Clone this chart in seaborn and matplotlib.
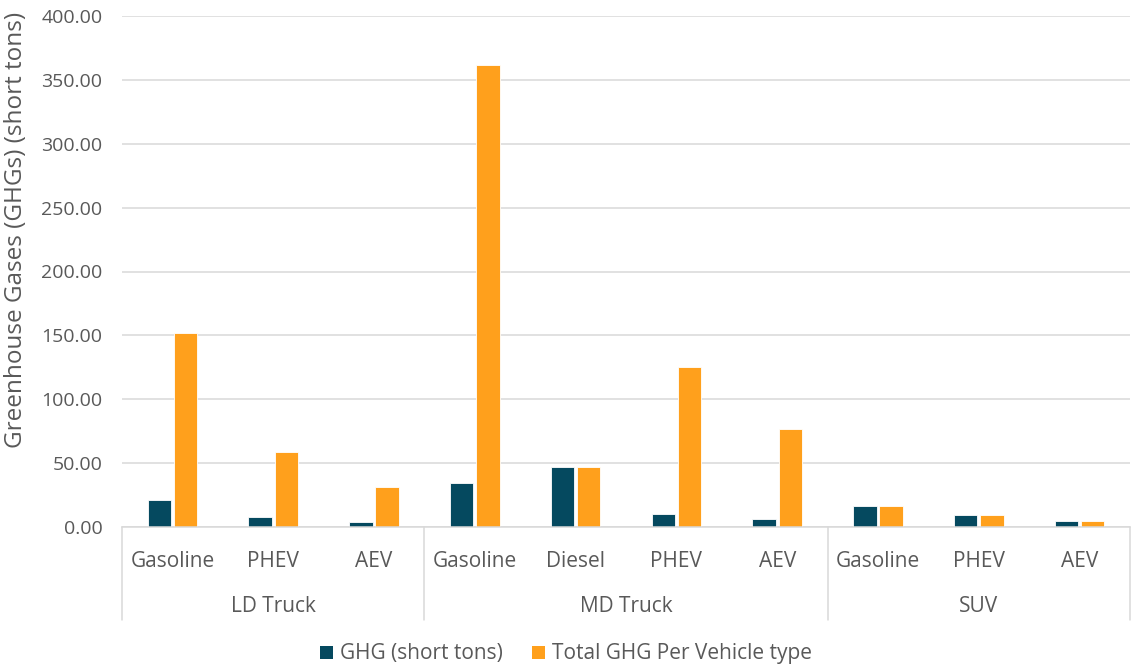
import matplotlib
matplotlib.use("Agg")
import matplotlib.pyplot as plt
import matplotlib.transforms as mtransforms
from matplotlib.patches import Patch
import pandas as pd
import seaborn as sns

# Vehicle classes and fuel types (two-level category axis)
groups = ["LD Truck", "LD Truck", "LD Truck",
          "MD Truck", "MD Truck", "MD Truck", "MD Truck",
          "SUV", "SUV", "SUV"]
fuels = ["Gasoline", "PHEV", "AEV",
         "Gasoline", "Diesel", "PHEV", "AEV",
         "Gasoline", "PHEV", "AEV"]

# Emissions, short tons
ghg_short_tons = [21.0, 8.1, 3.8, 34.7, 47.3, 10.4, 6.5, 16.4, 9.4, 5.0]
total_ghg_per_type = [152.0, 58.6, 31.5, 362.0, 47.3, 125.2, 76.8, 16.4, 9.4, 5.0]

series_names = ["GHG (short tons)", "Total GHG Per Vehicle type"]
series_colors = ["#05495F", "#FFA01C"]
group_names = ["LD Truck", "MD Truck", "SUV"]
y_ticks = [0, 50, 100, 150, 200, 250, 300, 350, 400]

TEXT = "#595959"
GRID = "#D9D9D9"

slots = [f"{g}|{f}" for g, f in zip(groups, fuels)]
df = pd.DataFrame({
    "slot": slots * 2,
    "value": ghg_short_tons + total_ghg_per_type,
    "series": [series_names[0]] * len(slots) + [series_names[1]] * len(slots),
})

sns.set_style("white")
plt.rcParams["font.family"] = ["Open Sans", "DejaVu Sans"]

W, H = 1132, 666
fig = plt.figure(figsize=(W / 100, H / 100), dpi=100)
ax_left, ax_right, ax_top, ax_bottom = 122, 1130, 16, 527
ax = fig.add_axes([ax_left / W, 1 - ax_bottom / H,
                   (ax_right - ax_left) / W, (ax_bottom - ax_top) / H])

sns.barplot(data=df, x="slot", y="value", hue="series", order=slots,
            hue_order=series_names, palette=series_colors, saturation=1,
            width=0.52, gap=0.1, edgecolor="white", linewidth=0.6,
            legend=False, ax=ax)

ax.set_xlim(-0.5, len(slots) - 0.5)
ax.set_ylim(0, 400)
ax.set_yticks(y_ticks)
ax.set_yticklabels([f"{v:.2f}" for v in y_ticks])
ax.yaxis.grid(True, color=GRID, linewidth=1.1)
ax.set_axisbelow(True)
for side in ["top", "right", "left"]:
    ax.spines[side].set_visible(False)
ax.spines["bottom"].set_color(GRID)
ax.spines["bottom"].set_linewidth(1.1)

ax.set_xticks(range(len(slots)))
ax.set_xticklabels(fuels)
ax.tick_params(axis="x", length=0, pad=17, labelsize=15, labelcolor=TEXT)
ax.tick_params(axis="y", length=0, pad=14, labelsize=14, labelcolor=TEXT)
ax.set_xlabel("")
ax.set_ylabel("")

# Second category level: separators and group names under the fuel labels
axis_h = ax_bottom - ax_top
trans = mtransforms.blended_transform_factory(ax.transData, ax.transAxes)
sep_bottom = -(620 - ax_bottom) / axis_h
start = 0
bounds = [-0.5]
centers = []
for name in group_names:
    n = groups.count(name)
    centers.append(start + (n - 1) / 2)
    start += n
    bounds.append(start - 0.5)
for b in bounds:
    ax.plot([b, b], [0, sep_bottom], transform=trans, color=GRID,
            linewidth=1.1, clip_on=False)
for c, name in zip(centers, group_names):
    ax.text(c, -(606 - ax_bottom) / axis_h, name, transform=trans,
            ha="center", va="center", fontsize=15, color=TEXT)

fig.text(16 / W, 1 - 230 / H, "Greenhouse Gases (GHGs) (short tons)",
         rotation=90, ha="center", va="center", fontsize=17.5, color=TEXT)

handles = [Patch(facecolor=c, edgecolor="none") for c in series_colors]
fig.legend(handles, series_names, loc="center",
           bbox_to_anchor=(566 / W, 1 - 654 / H), ncol=2, frameon=False,
           handlelength=0.6, handleheight=0.6, handletextpad=0.35,
           columnspacing=1.4, fontsize=15, labelcolor=TEXT)

fig.savefig("out.png", dpi=100, facecolor="white")
